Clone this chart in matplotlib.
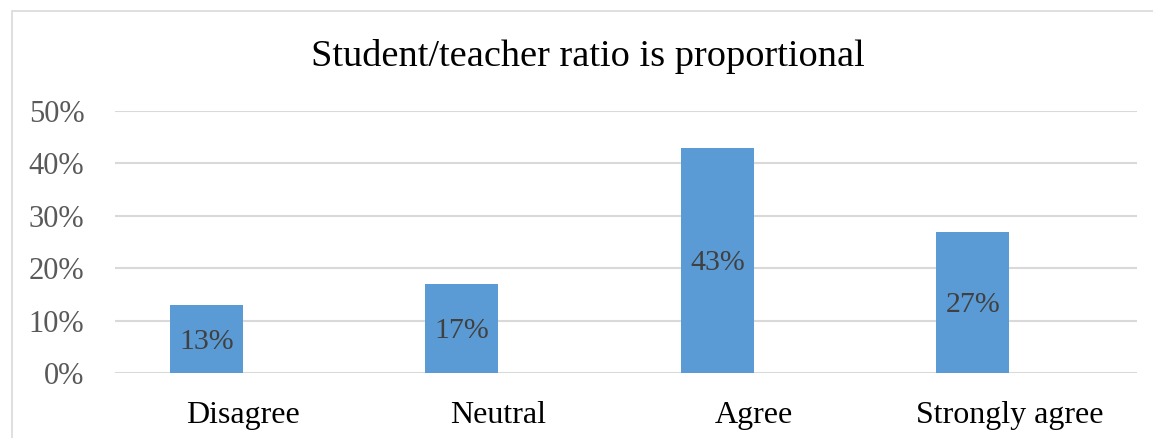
import matplotlib.pyplot as plt
from matplotlib.patches import Rectangle

# survey responses (percent of respondents)
categories = ['Disagree', 'Neutral', 'Agree', 'Strongly agree']
values = [13, 17, 43, 27]
yticks = [0, 10, 20, 30, 40, 50]

bar_color = '#5B9BD5'
grid_color = '#D9D9D9'
W, H = 1153, 438

plt.rcParams['font.family'] = 'Liberation Serif'

fig = plt.figure(figsize=(W / 100, H / 100), dpi=100)
# chart frame (runs off the right and bottom edge)
fig.patches.append(Rectangle((12 / W, -0.1), 1.2, (H - 11) / H + 0.1,
                             transform=fig.transFigure, fill=False,
                             edgecolor=grid_color, linewidth=1.2))

ax = fig.add_axes([115 / W, (H - 373) / H, (1137 - 115) / W, (373 - 111) / H])

width = 0.285
xs = [i - width / 2 for i in range(len(categories))]
bars = ax.bar(xs, values, width=width, color=bar_color, zorder=3)
for b, v in zip(bars, values):
    ax.text(b.get_x() + b.get_width() / 2, v / 2, f'{v}%',
            ha='center', va='center_baseline', fontsize=21.5, color='#404040', zorder=4)

ax.set_xlim(-0.5, len(categories) - 0.5)
ax.set_ylim(0, 50)
ax.set_yticks(yticks)
ax.set_yticklabels([f'{t}%' for t in yticks], fontsize=22, color='#595959')
ax.set_xticks(range(len(categories)))
ax.set_xticklabels(categories, fontsize=23, color='black')
ax.tick_params(axis='both', length=0)
ax.tick_params(axis='y', pad=22)
ax.tick_params(axis='x', pad=20)
for s in ax.spines.values():
    s.set_visible(False)
ax.grid(axis='y', color=grid_color, linewidth=1.5, zorder=0)

fig.text(588 / W, (H - 57) / H, 'Student/teacher ratio is proportional',
         ha='center', va='center', fontsize=27.6, color='black')

fig.savefig('out.png', dpi=100)
